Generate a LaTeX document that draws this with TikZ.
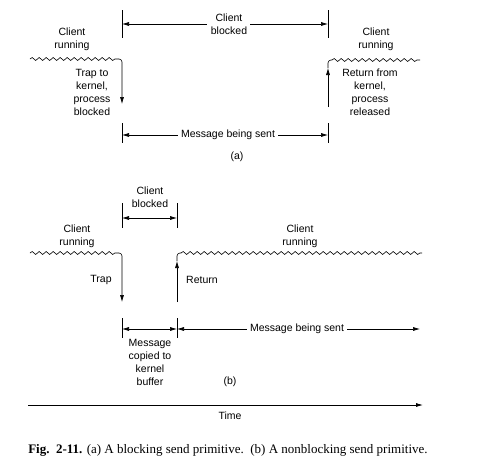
\documentclass[tikz,border=0pt]{standalone}
\usepackage{fontspec}
\setmainfont{Liberation Serif}
\setsansfont{Liberation Sans}
\usetikzlibrary{arrows.meta,decorations.pathmorphing}

\begin{document}
\begin{tikzpicture}[x=1pt,y=-1pt,line width=0.6pt,
	lbl/.style={font=\sffamily\fontsize{10.5}{13}\selectfont,align=center,inner sep=0pt},
	tip/.style={-{Latex[length=7pt,width=4pt]}},
	dtip/.style={{Latex[length=7pt,width=4pt]}-{Latex[length=7pt,width=4pt]}},
	wave/.style={decorate,decoration={snake,segment length=7pt,amplitude=1.5pt}}]
	\useasboundingbox (0,0) rectangle (490,466);
	\foreach \x/\ya/\yb in {122/10/38,328/10/38,122/123/143,328/123/143,122/203/228,177/203/228,122/318/338,177/318/338}{
		\draw (\x,\ya) -- (\x,\yb);
	}
	% (a)
	\coordinate (tla) at (122,24);
	\coordinate (tra) at (328,24);
	\coordinate (mla) at (122,135);
	\coordinate (mra) at (328,135);
	\coordinate (wa1) at (30,59);
	\coordinate (ka) at (122,59);
	\coordinate (kb) at (122,104);
	\coordinate (ra) at (328,60);
	\coordinate (rb) at (328,107);
	\coordinate (wa2) at (420,60);
	\node[lbl] (blka) at (229,24) {Client\\blocked};
	\node[lbl] (msga) at (228,135) {Message being sent};
	\node[lbl] (runa1) at (72,39) {Client\\running};
	\node[lbl] (trapa) at (92,92) {Trap to\\kernel,\\process\\blocked};
	\node[lbl] (runa2) at (376,39) {Client\\running};
	\node[lbl] (reta) at (370,92) {Return from\\kernel,\\process\\released};
	\node[lbl] (capa) at (237,157) {(a)};
	\draw[tip,shorten <=4pt] (blka) -- (tla);
	\draw[tip,shorten <=3pt] (blka) -- (tra);
	\draw[tip,shorten <=3pt] (msga) -- (mla);
	\draw[tip,shorten <=3pt] (msga) -- (mra);
	\draw[wave] (wa1) -- ([xshift=-4pt]ka);
	\draw[tip,rounded corners=3pt] ([xshift=-4pt]ka) -- (ka) -- (kb);
	\draw[tip] (rb) -- ([yshift=-8pt]ra);
	\draw[rounded corners=3pt] ([yshift=-8pt]ra) -- (ra) -- ([xshift=4pt]ra);
	\draw[wave] ([xshift=4pt]ra) -- (wa2);
	% (b)
	\coordinate (tlb) at (122,218);
	\coordinate (trb) at (177,218);
	\coordinate (mlb) at (122,329);
	\coordinate (mcb) at (177,329);
	\coordinate (mrb) at (420,329);
	\coordinate (wb1) at (30,253);
	\coordinate (kc) at (122,253);
	\coordinate (kd) at (122,302);
	\coordinate (rc) at (177,253);
	\coordinate (rd) at (177,302);
	\coordinate (wb2) at (422,253);
	\node[lbl] (blkb) at (150,197) {Client\\blocked};
	\node[lbl] (runb1) at (77,236) {Client\\running};
	\node[lbl] (trapb) at (101,280) {Trap};
	\node[lbl] (retb) at (202,280) {Return};
	\node[lbl] (runb2) at (300,236) {Client\\running};
	\node[lbl] (msgb) at (297,329) {Message being sent};
	\node[lbl] (cpyb) at (150,362) {Message\\copied to\\kernel\\buffer};
	\node[lbl] (capb) at (230,382) {(b)};
	\draw[dtip] (tlb) -- (trb);
	\draw[dtip] (mlb) -- (mcb);
	\draw[tip,shorten <=3pt] (msgb) -- (mcb);
	\draw[tip,shorten <=3pt] (msgb) -- (mrb);
	\draw[wave] (wb1) -- ([xshift=-4pt]kc);
	\draw[tip,rounded corners=3pt] ([xshift=-4pt]kc) -- (kc) -- (kd);
	\draw[tip] (rd) -- ([yshift=-8pt]rc);
	\draw[rounded corners=3pt] ([yshift=-8pt]rc) -- (rc) -- ([xshift=4pt]rc);
	\draw[wave] ([xshift=4pt]rc) -- (wb2);
	% time axis and caption
	\coordinate (t0) at (28,405);
	\coordinate (t1) at (423,405);
	\draw[tip,line width=0.8pt] (t0) -- (t1);
	\node[lbl] (time) at (230,416) {Time};
	\node[font=\fontsize{13}{15}\selectfont,anchor=west,inner sep=0pt] (cap) at (28,450) {\textbf{Fig.\ \ 2-11.} (a) A blocking send primitive.\ \ (b) A nonblocking send primitive.};
\end{tikzpicture}
\end{document}
